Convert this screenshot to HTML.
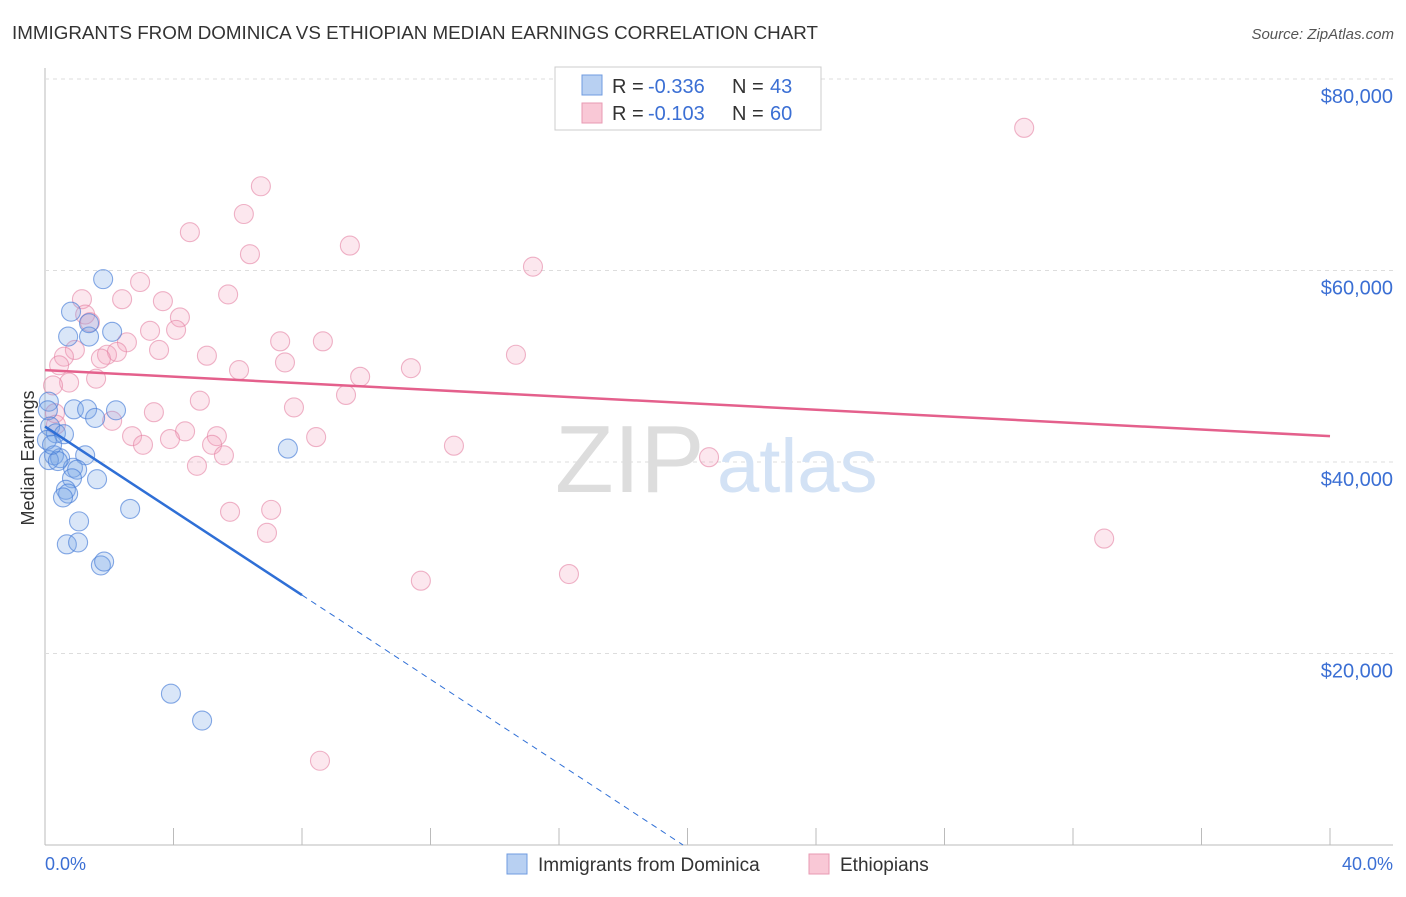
<!DOCTYPE html>
<html><head><meta charset="utf-8"><style>
body{margin:0;background:#fff;font-family:"Liberation Sans",sans-serif;}
svg text{font-family:"Liberation Sans",sans-serif;}
</style></head><body>
<svg id="chart" width="1406" height="892">
<text x="12" y="39" font-size="18.8" fill="#333">IMMIGRANTS FROM DOMINICA VS ETHIOPIAN MEDIAN EARNINGS CORRELATION CHART</text>
<text x="1394" y="39" font-size="15" fill="#555" font-style="italic" text-anchor="end">Source: ZipAtlas.com</text>
<g id="grid"></g>
<g><text x="555" y="492" font-size="96" fill="#ddd" font-family="Liberation Serif">ZIP</text><text x="717" y="492" font-size="76" fill="#d3e2f5">atlas</text></g>
<g id="pts"></g>
<g id="lines"></g>
<text x="34" y="458" font-size="18" fill="#333" text-anchor="middle" transform="rotate(-90 34 458)">Median Earnings</text>
<text x="45" y="870" font-size="18" fill="#3b6fd4">0.0%</text>
<text x="1393" y="870" font-size="18" fill="#3b6fd4" text-anchor="end">40.0%</text>
<g>
<rect x="555" y="67" width="266" height="63" fill="#fff" stroke="#ccc"/>
<rect x="582" y="75" width="20" height="20" fill="#b8d0f2" stroke="#6f9be0"/>
<rect x="582" y="103" width="20" height="20" fill="#f9c8d6" stroke="#e89ab3"/>
<text x="612" y="93" font-size="20" fill="#333">R = <tspan x="648" fill="#3b6fd4">-0.336</tspan><tspan x="732">N =</tspan><tspan x="770" fill="#3b6fd4">43</tspan></text>
<text x="612" y="120" font-size="20" fill="#333">R = <tspan x="648" fill="#3b6fd4">-0.103</tspan><tspan x="732">N =</tspan><tspan x="770" fill="#3b6fd4">60</tspan></text>
</g>
<g>
<rect x="507" y="854" width="20" height="20" fill="#b8d0f2" stroke="#6f9be0"/>
<text x="538" y="871" font-size="19" fill="#333">Immigrants from Dominica</text>
<rect x="809" y="854" width="20" height="20" fill="#f9c8d6" stroke="#e89ab3"/>
<text x="840" y="871" font-size="19" fill="#333">Ethiopians</text>
</g>
</svg>
<script>
const yTicks=[20000,40000,60000,80000];
const yTickLabels=["$20,000","$40,000","$60,000","$80,000"];
const xTicks=[0,4,8,12,16,20,24,28,32,36,40];
const blueX=[1.81,0.81,0.72,1.37,2.09,1.37,0.12,0.09,0.90,1.31,1.56,2.21,0.16,0.34,0.59,0.06,0.28,0.47,1.25,0.12,0.87,1.0,0.84,1.62,0.65,0.72,0.56,2.65,1.06,0.68,1.03,1.74,1.84,7.56,3.92,4.89,0.4,0.22];
const blueY=[59.1,55.7,53.1,53.1,53.6,54.5,46.3,45.4,45.5,45.5,44.6,45.4,43.7,43.0,42.9,42.3,40.7,40.4,40.7,40.2,39.4,39.2,38.3,38.2,37.1,36.7,36.3,35.1,33.8,31.4,31.6,29.2,29.6,41.4,15.8,13.0,40.1,41.8];
const pinkX=[30.48,6.72,6.19,4.51,9.49,6.38,15.19,2.96,5.70,1.15,2.40,3.67,1.25,4.20,1.40,3.27,4.08,2.55,7.32,8.65,0.93,3.55,0.59,1.93,2.24,1.74,5.04,14.66,7.47,0.44,11.39,6.04,9.81,1.59,0.75,0.25,9.37,4.82,7.75,3.39,0.31,0.34,2.09,4.36,2.71,5.35,8.44,3.89,3.05,5.20,12.73,5.57,20.67,4.73,5.76,7.04,6.91,32.97,16.31,11.70,8.56];
const pinkY=[74.9,68.8,65.9,64.0,62.6,61.7,60.4,58.8,57.5,57.0,57.0,56.8,55.4,55.1,54.6,53.7,53.8,52.5,52.6,52.6,51.7,51.7,51.0,51.2,51.5,50.8,51.1,51.2,50.4,50.1,49.8,49.6,48.9,48.7,48.3,48.0,47.0,46.4,45.7,45.2,45.1,43.9,44.3,43.2,42.7,42.7,42.6,42.4,41.8,41.8,41.7,40.7,40.5,39.6,34.8,35.0,32.6,32.0,28.3,27.6,8.8];
const blueTrend=[43.7,-2.2];
const pinkTrend=[49.6,-0.1725];
const X=p=>45+p/40*1285;
const Y=k=>845-k/20*191.5;
const NS="http://www.w3.org/2000/svg";
function mk(tag,attrs,parent){const e=document.createElementNS(NS,tag);for(const k in attrs)e.setAttribute(k,attrs[k]);parent.appendChild(e);return e;}
const grid=document.getElementById('grid');
let ax=mk('line',{x1:45,y1:68,x2:45,y2:845,stroke:'#bbb'},grid);


let bx=mk('line',{x1:45,y1:845,x2:1393,y2:845,stroke:'#bbb'},grid);


yTicks.forEach((v,i)=>{const y=Y(v/1000);
let l=mk('line',{x1:45,y1:y,x2:1393,y2:y,stroke:'#ddd','stroke-dasharray':'4 4'},grid);


let t=mk('text',{x:1393,y:y+24,'font-size':20,fill:'#3b6fd4','text-anchor':'end'},grid);t.textContent=yTickLabels[i];

});
let g0=mk('line',{x1:45,y1:79,x2:1393,y2:79,stroke:'#ddd','stroke-dasharray':'4 4'},grid);


xTicks.forEach(v=>{let l=mk('line',{x1:X(v),y1:828,x2:X(v),y2:845,stroke:'#bbb'},grid);

});
const pts=document.getElementById('pts');
pinkX.forEach((x,i)=>{let c=mk('circle',{cx:X(x),cy:Y(pinkY[i]),r:9.5,fill:'rgba(244,160,187,0.25)',stroke:'rgba(228,130,163,0.6)','stroke-width':1.1},pts);

});
blueX.forEach((x,i)=>{let c=mk('circle',{cx:X(x),cy:Y(blueY[i]),r:9.5,fill:'rgba(120,165,230,0.28)',stroke:'rgba(70,125,215,0.65)','stroke-width':1.1},pts);

});
const lines=document.getElementById('lines');
let pl=mk('line',{x1:X(0),y1:Y(pinkTrend[0]),x2:X(40),y2:Y(pinkTrend[0]+pinkTrend[1]*40),stroke:'#e4608c','stroke-width':2.5},lines);


let bl=mk('line',{x1:X(0),y1:Y(blueTrend[0]),x2:X(8),y2:Y(blueTrend[0]+blueTrend[1]*8),stroke:'#2f6fd6','stroke-width':2.5},lines);


const xe=-blueTrend[0]/blueTrend[1];
let bd=mk('line',{x1:X(8),y1:Y(blueTrend[0]+blueTrend[1]*8),x2:X(xe),y2:Y(0),stroke:'#2f6fd6','stroke-width':1,'stroke-dasharray':'6 5'},lines);


</script>
</body></html>
